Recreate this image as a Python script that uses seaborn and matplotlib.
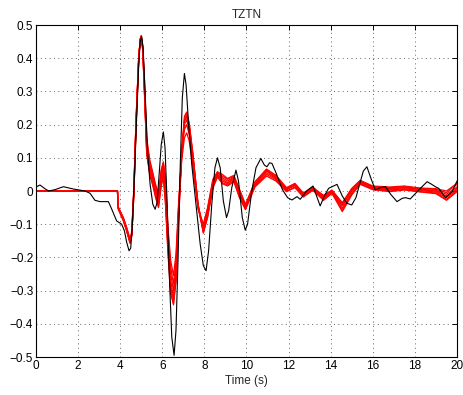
import numpy as np
import pandas as pd
import matplotlib
matplotlib.use("Agg")
import matplotlib.pyplot as plt
import seaborn as sns

# Observed TZTN waveform: time (s) and amplitude at read-off points
obs_time = [0.0, 0.19, 0.4, 0.6, 0.9, 1.3, 1.77, 2.33, 2.57, 2.8, 3.04, 3.44, 3.6, 3.83,
            4.07, 4.2, 4.31, 4.42, 4.5, 4.58, 4.68, 4.78, 4.88, 4.95, 5.02, 5.09, 5.18,
            5.3, 5.42, 5.55, 5.66, 5.75, 5.85, 5.95, 6.05, 6.13, 6.22, 6.33, 6.45, 6.56,
            6.65, 6.75, 6.85, 6.95, 7.05, 7.13, 7.25, 7.4, 7.6, 7.8, 7.95, 8.08, 8.2,
            8.35, 8.5, 8.62, 8.75, 8.9, 9.05, 9.15, 9.3, 9.5, 9.62, 9.8, 9.94, 10.05,
            10.25, 10.45, 10.68, 10.85, 10.97, 11.1, 11.21, 11.4, 11.7, 11.95, 12.16,
            12.4, 12.55, 12.85, 13.16, 13.3, 13.5, 13.7, 13.9, 14.3, 14.55, 14.77, 15.0,
            15.2, 15.35, 15.55, 15.72, 15.9, 16.12, 16.35, 16.6, 16.85, 17.15, 17.4,
            17.55, 17.78, 18.18, 18.58, 18.8, 18.97, 19.13, 19.45, 19.77, 20.0]
obs_amp = [0.012, 0.018, 0.008, 0.0, 0.004, 0.013, 0.006, 0.0, -0.007, -0.028, -0.032,
           -0.032, -0.055, -0.09, -0.1, -0.12, -0.155, -0.18, -0.172, -0.1, 0.05, 0.22,
           0.38, 0.45, 0.466, 0.43, 0.3, 0.12, 0.02, -0.04, -0.055, -0.035, 0.05, 0.14,
           0.178, 0.13, -0.02, -0.25, -0.44, -0.495, -0.42, -0.2, 0.07, 0.28, 0.354,
           0.32, 0.2, 0.08, -0.04, -0.16, -0.225, -0.24, -0.18, -0.04, 0.07, 0.1, 0.07,
           -0.03, -0.08, -0.06, 0.01, 0.063, 0.03, -0.08, -0.118, -0.1, 0.0, 0.07, 0.098,
           0.078, 0.073, 0.085, 0.083, 0.055, 0.005, -0.02, -0.027, -0.017, -0.025, 0.0,
           0.015, -0.01, -0.045, -0.015, 0.008, 0.02, -0.015, -0.037, -0.042, -0.02,
           0.015, 0.06, 0.073, 0.04, 0.003, 0.01, 0.013, -0.01, -0.032, -0.022, -0.02,
           -0.024, 0.003, 0.028, 0.02, 0.013, 0.008, -0.02, -0.002, 0.03]

# Synthetic waveforms, all sampled at the same times
syn_time = [0.0, 3.87, 3.91, 4.15, 4.3, 4.47, 4.55, 4.65, 4.75, 4.88, 4.95, 5.0, 5.07,
            5.15, 5.26, 5.4, 5.55, 5.68, 5.82, 5.95, 6.05, 6.15, 6.27, 6.4, 6.53, 6.65,
            6.78, 6.92, 7.05, 7.16, 7.28, 7.45, 7.7, 7.95, 8.15, 8.4, 8.62, 8.85, 9.1,
            9.4, 9.65, 9.95, 10.4, 10.95, 11.4, 11.9, 12.3, 12.7, 13.15, 13.66, 14.06,
            14.55, 15.0, 15.4, 16.0, 16.8, 17.5, 18.26, 19.0, 19.5, 20.0]
syn_1 = [0, 0, -0.052, -0.085, -0.115, -0.153, -0.13, 0.0, 0.2, 0.4,
         0.455, 0.465, 0.43, 0.31, 0.13, 0.07, 0.035, 0.0, -0.03, 0.04,
         0.07, 0.0, -0.15, -0.27, -0.32, -0.24, -0.05, 0.12, 0.21, 0.23,
         0.19, 0.1, -0.05, -0.12, -0.07, 0.02, 0.05, 0.035, 0.025, 0.04,
         -0.005, -0.05, 0.02, 0.06, 0.04, 0.005, 0.018, -0.012, 0.008, -0.02,
         -0.002, -0.045, 0.0, 0.028, 0.01, 0.005, 0.01, 0.003, 0.0, -0.015,
         0.008]
syn_2 = [0, 0, -0.05, -0.082, -0.11, -0.148, -0.125, 0.01, 0.21, 0.405,
         0.452, 0.462, 0.435, 0.33, 0.15, 0.09, 0.05, 0.015, -0.012, 0.06,
         0.088, 0.03, -0.12, -0.23, -0.28, -0.21, -0.04, 0.11, 0.185, 0.2,
         0.17, 0.09, -0.045, -0.105, -0.055, 0.03, 0.056, 0.045, 0.035, 0.045,
         0.005, -0.043, 0.026, 0.066, 0.046, 0.009, 0.021, -0.008, 0.011, -0.015,
         0.001, -0.038, 0.006, 0.031, 0.013, 0.01, 0.013, 0.007, 0.005, -0.005,
         0.02]
syn_3 = [0, 0, -0.055, -0.09, -0.12, -0.158, -0.135, -0.01, 0.19, 0.395,
         0.458, 0.468, 0.425, 0.3, 0.11, 0.055, 0.02, -0.015, -0.045, 0.02,
         0.05, -0.03, -0.18, -0.3, -0.343, -0.27, -0.07, 0.12, 0.225, 0.238,
         0.205, 0.115, -0.045, -0.127, -0.08, 0.01, 0.044, 0.025, 0.018, 0.032,
         -0.015, -0.055, 0.014, 0.05, 0.034, 0.0, 0.012, -0.017, 0.004, -0.027,
         -0.006, -0.058, -0.01, 0.022, 0.005, 0.0, 0.005, -0.002, -0.006, -0.025,
         0.0]
syn_4 = [0, 0, -0.05, -0.083, -0.112, -0.15, -0.128, 0.005, 0.205, 0.4,
         0.455, 0.464, 0.432, 0.32, 0.14, 0.08, 0.04, 0.005, -0.02, 0.05,
         0.08, 0.015, -0.14, -0.25, -0.3, -0.23, -0.045, 0.115, 0.2, 0.215,
         0.18, 0.095, -0.05, -0.112, -0.06, 0.025, 0.054, 0.04, 0.03, 0.042,
         0.0, -0.047, 0.022, 0.062, 0.042, 0.006, 0.016, -0.01, 0.012, -0.019,
         0.0, -0.043, 0.002, 0.027, 0.011, 0.007, 0.011, 0.005, 0.002, -0.01,
         0.012]
syn_5 = [0, 0, -0.053, -0.087, -0.118, -0.155, -0.132, -0.005, 0.195, 0.398,
         0.456, 0.466, 0.428, 0.305, 0.12, 0.06, 0.025, -0.01, -0.04, 0.025,
         0.055, -0.02, -0.17, -0.29, -0.33, -0.26, -0.065, 0.11, 0.21, 0.225,
         0.195, 0.11, -0.04, -0.125, -0.075, 0.015, 0.047, 0.03, 0.022, 0.036,
         -0.01, -0.052, 0.017, 0.055, 0.037, 0.003, 0.02, -0.015, 0.006, -0.024,
         -0.004, -0.052, -0.006, 0.024, 0.007, 0.003, 0.007, 0.001, -0.003, -0.02,
         0.004]
syn_6 = [0, 0, -0.048, -0.08, -0.108, -0.146, -0.122, 0.012, 0.21, 0.405,
         0.45, 0.46, 0.438, 0.34, 0.16, 0.095, 0.055, 0.02, -0.01, 0.065,
         0.085, 0.04, -0.11, -0.21, -0.255, -0.19, -0.03, 0.09, 0.16, 0.175,
         0.15, 0.075, -0.055, -0.1, -0.05, 0.035, 0.058, 0.05, 0.038, 0.047,
         0.008, -0.04, 0.028, 0.065, 0.047, 0.01, 0.023, -0.006, 0.01, -0.013,
         0.003, -0.035, 0.008, 0.032, 0.015, 0.012, 0.015, 0.009, 0.007, 0.0,
         0.023]
syn_7 = [0, 0, -0.054, -0.088, -0.117, -0.156, -0.134, -0.008, 0.19, 0.395,
         0.457, 0.467, 0.426, 0.3, 0.115, 0.05, 0.015, -0.02, -0.05, 0.015,
         0.04, -0.04, -0.19, -0.31, -0.34, -0.27, -0.08, 0.1, 0.215, 0.232,
         0.2, 0.11, -0.04, -0.122, -0.078, 0.008, 0.042, 0.022, 0.015, 0.028,
         -0.018, -0.056, 0.012, 0.045, 0.03, -0.002, 0.01, -0.018, 0.002, -0.028,
         -0.007, -0.062, -0.012, 0.02, 0.004, -0.002, 0.003, -0.003, -0.008, -0.028,
         -0.002]

x_ticks = [0, 2, 4, 6, 8, 10, 12, 14, 16, 18, 20]
y_ticks = [-0.5, -0.4, -0.3, -0.2, -0.1, 0, 0.1, 0.2, 0.3, 0.4, 0.5]
y_tick_labels = ["\u22120.5", "\u22120.4", "\u22120.3", "\u22120.2", "\u22120.1", "0",
                 "0.1", "0.2", "0.3", "0.4", "0.5"]

sns.set_style("white")
plt.rcParams["font.family"] = ["Liberation Sans", "DejaVu Sans"]
plt.rcParams["font.size"] = 8.5

syn_all = [syn_1, syn_2, syn_3, syn_4, syn_5, syn_6, syn_7]
syn_df = pd.concat(
    [pd.DataFrame({"time": syn_time, "amp": s, "run": i}) for i, s in enumerate(syn_all)],
    ignore_index=True)
obs_df = pd.DataFrame({"time": obs_time, "amp": obs_amp})

fig = plt.figure(figsize=(4.64, 3.95), dpi=100)
ax = fig.add_axes([36 / 464, 1 - 357 / 395, (457 - 36) / 464, (357 - 25) / 395])

sns.lineplot(data=syn_df, x="time", y="amp", units="run", estimator=None,
             color="#ff0000", linewidth=0.9, ax=ax, legend=False, sort=False)
sns.lineplot(data=obs_df, x="time", y="amp", color="black", linewidth=0.8,
             ax=ax, legend=False, sort=False)

ax.set_xlim(0, 20)
ax.set_ylim(-0.5, 0.5)
ax.set_xticks(x_ticks)
ax.set_yticks(y_ticks)
ax.set_yticklabels(y_tick_labels)
ax.set_xlabel("Time (s)", labelpad=2)
ax.set_ylabel("")
ax.set_title("TZTN", fontsize=8.5, pad=5)

ax.grid(True, color="0.4", linestyle=(0, (1, 3.5)), linewidth=0.7)
ax.tick_params(direction="in", length=3.5, width=0.7, top=True, right=True,
               pad=2, labelsize=8.5, colors="black")
for sp in ax.spines.values():
    sp.set_visible(True)
    sp.set_color("black")
    sp.set_linewidth(0.8)

fig.savefig("out.png", dpi=100)
